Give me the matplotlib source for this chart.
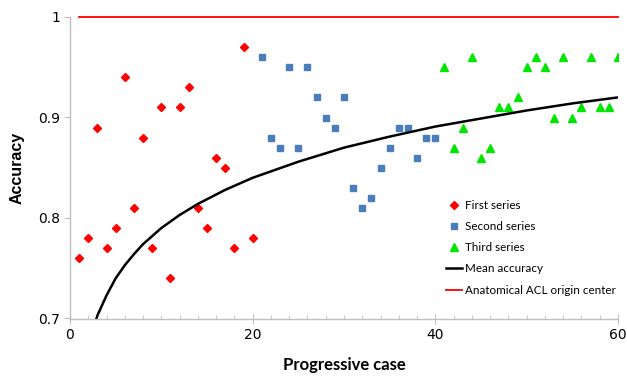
import matplotlib
matplotlib.use("Agg")
import matplotlib.pyplot as plt
from matplotlib.ticker import MultipleLocator, FuncFormatter

# accuracy per progressive case
first_cases = list(range(1, 21))
first_acc = [0.76, 0.78, 0.89, 0.77, 0.79, 0.94, 0.81, 0.88, 0.77, 0.91,
             0.74, 0.91, 0.93, 0.81, 0.79, 0.86, 0.85, 0.77, 0.97, 0.78]

second_cases = list(range(21, 41))
second_acc = [0.96, 0.88, 0.87, 0.95, 0.87, 0.95, 0.92, 0.90, 0.89, 0.92,
              0.83, 0.81, 0.82, 0.85, 0.87, 0.89, 0.89, 0.86, 0.88, 0.88]

third_cases = list(range(41, 61))
third_acc = [0.95, 0.87, 0.89, 0.96, 0.86, 0.87, 0.91, 0.91, 0.92, 0.95,
             0.96, 0.95, 0.90, 0.96, 0.90, 0.91, 0.96, 0.91, 0.91, 0.96]

# mean accuracy curve
mean_cases = [2, 3, 4, 5, 6, 7, 8, 9, 10, 12, 14, 17, 20, 25, 30, 35, 40, 45, 50, 55, 60]
mean_acc = [0.673, 0.703, 0.723, 0.740, 0.753, 0.764, 0.774, 0.782, 0.790, 0.803, 0.814,
            0.828, 0.840, 0.856, 0.870, 0.881, 0.891, 0.899, 0.907, 0.914, 0.920]

# anatomical ACL origin center reference line
origin_cases = [1, 60]
origin_acc = [1.0, 1.0]

plt.rcParams["font.family"] = ["DejaVu Sans"]

fig = plt.figure(figsize=(6.27, 3.77), dpi=100)
ax = fig.add_axes([70 / 627, 58.5 / 377, 548 / 627, 301.5 / 377])

ax.plot(first_cases, first_acc, linestyle="none", marker="D", markersize=4.5,
        color="#ff0000", label="First series")
ax.plot(second_cases, second_acc, linestyle="none", marker="s", markersize=4.5,
        color="#4a7ebb", label="Second series")
ax.plot(third_cases, third_acc, linestyle="none", marker="^", markersize=6,
        color="#00e600", label="Third series")
ax.plot(mean_cases, mean_acc, color="black", linewidth=1.8, label="Mean accuracy")
ax.plot(origin_cases, origin_acc, color="#ff0000", linewidth=1.3, clip_on=False,
        label="Anatomical ACL origin center")

ax.set_xlim(0, 60)
ax.set_ylim(0.7, 1.0)
ax.xaxis.set_major_locator(MultipleLocator(20))
ax.xaxis.set_minor_locator(MultipleLocator(2))
ax.yaxis.set_major_locator(MultipleLocator(0.1))
ax.yaxis.set_major_formatter(FuncFormatter(lambda v, p: f"{v:g}"))

for s in ["top", "right"]:
    ax.spines[s].set_visible(False)
for s in ["left", "bottom"]:
    ax.spines[s].set_color("#bfbfbf")
    ax.spines[s].set_linewidth(1.0)

ax.tick_params(axis="x", which="major", direction="inout", length=7, color="#bfbfbf",
               labelsize=10, pad=3)
ax.tick_params(axis="x", which="minor", direction="in", length=3, color="#bfbfbf")
ax.tick_params(axis="y", which="major", direction="out", length=4, color="#bfbfbf",
               labelsize=10, pad=3)

ax.set_xlabel("Progressive case", fontsize=12, fontweight="bold", family="Lato", labelpad=11)
ax.set_ylabel("Accuracy", fontsize=11.5, fontweight="bold", family="Liberation Sans", labelpad=10)

leg = ax.legend(loc="upper left", bbox_to_anchor=(446 / 627, 1 - 200 / 377),
                bbox_transform=fig.transFigure, frameon=False, prop={"family": "Lato", "size": 8.4},
                handlelength=1.35, handletextpad=0.25, labelspacing=0.87, borderpad=0,
                borderaxespad=0, markerscale=0.85)

fig.savefig("out.png", dpi=100)
